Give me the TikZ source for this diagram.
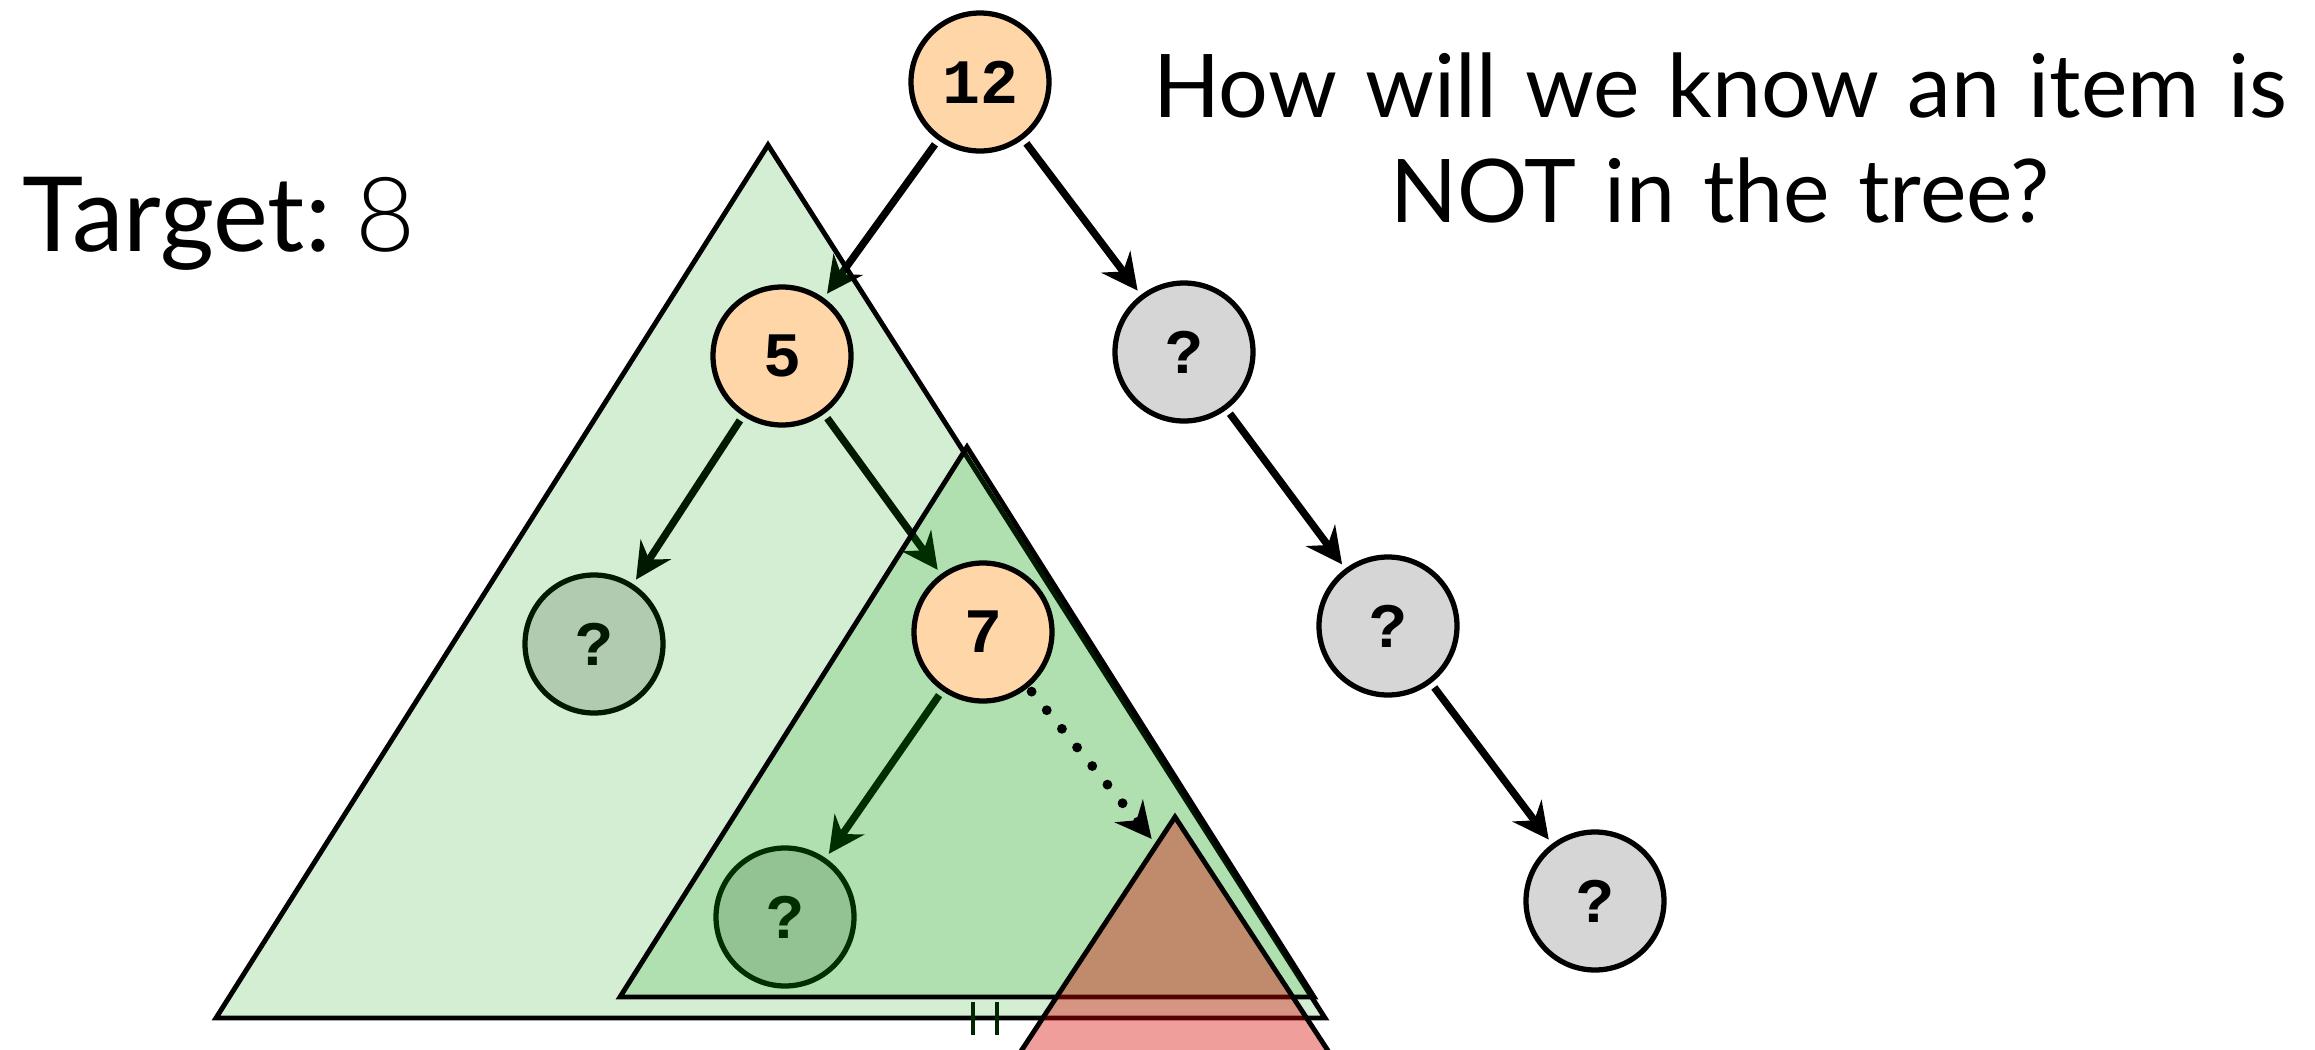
\documentclass[tikz,border=0pt]{standalone}
\usepackage{fontspec}
\setmainfont{Lato}
\newfontfamily\lightfont{Lato Light}
\newfontfamily\keyfont{Liberation Mono}
\usetikzlibrary{arrows.meta}

\definecolor{keyorange}{RGB}{255,214,168}
\definecolor{keygrey}{RGB}{214,214,214}
\definecolor{subgreen}{RGB}{0,154,0}
\definecolor{subred}{RGB}{216,6,0}
\definecolor{tickgreen}{RGB}{0,38,0}

\newcommand{\questionfont}{\fontsize{25}{30}\selectfont\spaceskip=0.32em\relax}

\pgfdeclarelayer{under}
\pgfdeclarelayer{tint}
\pgfsetlayers{under,tint,main}

\tikzset{
  key/.style={circle, draw=black, line width=1.5pt, fill=keyorange,
    minimum size=1.38cm, inner sep=0pt,
    font=\keyfont\bfseries\fontsize{18}{18}\selectfont},
  unknown/.style={key, fill=keygrey},
  link/.style={line width=2.1pt, shorten <=1.5pt, shorten >=1.5pt,
    -{Stealth[length=0.36cm, width=0.36cm, inset=0.12cm]}},
  subtree/.style={draw=black, line width=1.4pt, fill=subgreen, fill opacity=0.17},
}

\begin{document}
\begin{tikzpicture}[x=0.1mm, y=-0.1mm]
\useasboundingbox (0,0) rectangle (2315,1049);
\clip (0,0) rectangle (2315,1049);

\node[anchor=base west, inner sep=0pt, font=\fontsize{29.5}{29.5}\selectfont] (target) at (22,251) {Target:\hspace{-3pt} {\lightfont 8}};
\node[anchor=north, inner sep=0pt, align=center, font=\questionfont] (question) at (1720,52) {How will we know an item is\\NOT in the tree?};

\node[key] (n12) at (980,82) {12};
\node[key] (n5) at (782,356) {5};
\node[key] (n7) at (983,632) {7};
\node[unknown] (q1) at (1184,352) {?};
\node[unknown] (q4) at (1388,626) {?};
\node[unknown] (q5) at (1595,901) {?};

\begin{pgfonlayer}{under}
\node[unknown] (q2) at (594,644) {?};
\node[unknown] (q3) at (785,917) {?};
\draw[link] (n12) -- (n5);
\draw[link] (n12) -- (q1);
\draw[link] (n5) -- (q2);
\draw[link] (n5) -- (n7);
\draw[link] (n7) -- (q3);
\draw[link] (q1) -- (q4);
\draw[link] (q4) -- (q5);
\end{pgfonlayer}

% subtrees of 5 and 7
\begin{pgfonlayer}{tint}
\filldraw[subtree] (768,145) -- (216,1018) -- (1325,1018) -- cycle;
\filldraw[subtree] (967,447) -- (620,997) -- (1314,997) -- cycle;
\end{pgfonlayer}

\coordinate (dotend) at (1155,843);
\draw[link, line width=2.8pt, line cap=round, dash pattern=on 0pt off 0.24cm] (n7) -- (dotend);
\filldraw[draw=black, line width=1.4pt, fill=subred, fill opacity=0.39] (1175,817) -- (956,1150) -- (1393,1150) -- cycle;

\draw[tickgreen, line width=1.2pt] (973,1002) -- (973,1035);
\draw[tickgreen, line width=1.2pt] (997,1002) -- (997,1035);
\end{tikzpicture}
\end{document}
